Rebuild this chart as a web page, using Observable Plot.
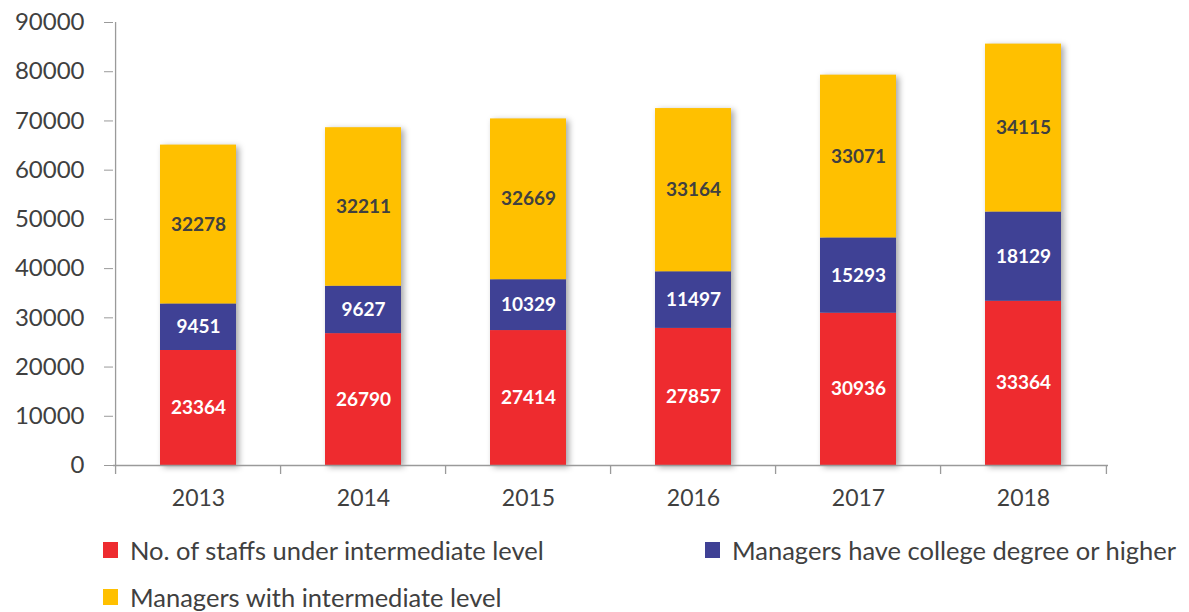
<!DOCTYPE html>
<html>
<head>
<meta charset="utf-8">
<script src="https://cdn.jsdelivr.net/npm/d3@7"></script>
<script src="https://cdn.jsdelivr.net/npm/@observablehq/plot@0.6"></script>
<style>
  body { margin: 0; background: #fff; font-family: Lato, "Open Sans", sans-serif; }
  #chart { position: relative; width: 1189px; height: 612px; }
  svg g[aria-label="bar"] { filter: drop-shadow(3px 2px 3px rgba(0,0,0,0.35)); }
  .legend { position: absolute; left: 0; top: 0; width: 1189px; height: 612px; pointer-events: none; }
  .item { position: absolute; display: flex; align-items: center; font-size: 25.5px; color: #404040; white-space: nowrap; }
  .sw { width: 15px; height: 16px; margin-right: 12px; flex: none; }
</style>
</head>
<body>
<div id="chart"></div>
<script>
const years = ["2013", "2014", "2015", "2016", "2017", "2018"];
const seriesNames = [
  "No. of staffs under intermediate level",
  "Managers have college degree or higher",
  "Managers with intermediate level"
];
const colors = ["#EE2B2F", "#3F4195", "#FFC000"];
const labelColors = ["#ffffff", "#ffffff", "#404040"];
const staffUnder = [23364, 26790, 27414, 27857, 30936, 33364];
const managersCollege = [9451, 9627, 10329, 11497, 15293, 18129];
const managersInter = [32278, 32211, 32669, 33164, 33071, 34115];
const yTicks = [0, 10000, 20000, 30000, 40000, 50000, 60000, 70000, 80000, 90000];

const seriesValues = [staffUnder, managersCollege, managersInter];
const data = [];
seriesValues.forEach((vals, s) => {
  vals.forEach((v, i) => data.push({year: years[i], series: seriesNames[s], value: v, s}));
});

const W = 1189, H = 520, mL = 113, mR = 81, mT = 22, mB = 55;
const step = (W - mL - mR) / years.length;

const plot = Plot.plot({
  width: W,
  height: H,
  marginLeft: mL,
  marginRight: mR,
  marginTop: mT,
  marginBottom: mB,
  style: {fontFamily: 'Lato, "Open Sans", sans-serif', background: "#fff", overflow: "visible"},
  x: {domain: years, paddingInner: 0.54, paddingOuter: 0.27, label: null},
  y: {domain: [0, 90000], label: null},
  color: {domain: seriesNames, range: colors},
  marks: [
    Plot.barY(data, {x: "year", y: "value", fill: "series", order: null}),
    Plot.text(data, Plot.stackY({
      x: "year", y: "value", order: null,
      text: d => String(d.value),
      fill: d => labelColors[d.s],
      fontSize: 19, fontWeight: "bold"
    })),
    Plot.ruleY([0], {stroke: "#9a9a9a", strokeWidth: 1.3}),
    Plot.ruleX([years[0]], {dx: -step / 2, y1: 90000, y2: 0, insetBottom: -9, stroke: "#9a9a9a", strokeWidth: 1.3}),
    Plot.ruleX(years.slice(1), {x: d => d, dx: -step / 2, y1: 0, y2: 0, insetBottom: -9, stroke: "#9a9a9a", strokeWidth: 1.3}),
    Plot.ruleX([years[years.length - 1]], {dx: step / 2, y1: 0, y2: 0, insetBottom: -9, stroke: "#9a9a9a", strokeWidth: 1.3}),
    Plot.axisY({ticks: yTicks, tickFormat: d => String(d), tickSize: 9, tickPadding: 20, fontSize: 24, color: "#404040", stroke: "#9a9a9a", label: null}),
    Plot.axisX({tickSize: 0, tickPadding: 24, fontSize: 23, color: "#404040", label: null})
  ]
});

const chart = document.getElementById("chart");
chart.appendChild(plot);

const legend = document.createElement("div");
legend.className = "legend";
const positions = [[103, 550], [705, 550], [103, 597]];
seriesNames.forEach((name, i) => {
  const item = document.createElement("div");
  item.className = "item";
  item.style.left = positions[i][0] + "px";
  item.style.top = (positions[i][1] - 15) + "px";
  item.style.height = "30px";
  const sw = document.createElement("span");
  sw.className = "sw";
  sw.style.background = colors[i];
  const t = document.createElement("span");
  t.textContent = name;
  item.appendChild(sw);
  item.appendChild(t);
  legend.appendChild(item);
});
chart.appendChild(legend);
</script>
</body>
</html>
